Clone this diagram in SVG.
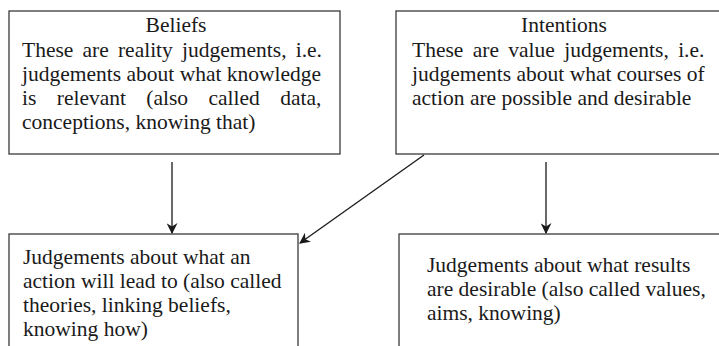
<svg xmlns="http://www.w3.org/2000/svg" width="719" height="346" viewBox="0 0 719 346">
<defs>
<style>
.box{fill:#fff;stroke:#3a3a3a;stroke-width:1.3}
.t{font-family:"Liberation Serif","Times New Roman",serif;font-size:21.5px;fill:#1a1a1a}
.c{text-anchor:middle}
.ln{stroke:#1a1a1a;stroke-width:1.3;fill:none}
</style>
<marker id="ah" viewBox="0 0 10 10" refX="9" refY="5" markerWidth="11" markerHeight="11" markerUnits="userSpaceOnUse" orient="auto">
<path d="M0,0 L10,5 L0,10 L3,5 z" fill="#1a1a1a"/>
</marker>
</defs>
<rect width="719" height="346" fill="#fff"/>
<g id="beliefs">
<rect class="box" x="9" y="11" width="331" height="143"/>
<text class="t c" x="176" y="32">Beliefs</text>
<text class="t" x="22" y="57" word-spacing="3.8">These are reality judgements, i.e.</text>
<text class="t" x="22" y="81">judgements about what knowledge</text>
<text class="t" x="22" y="105" word-spacing="15">is relevant (also called data,</text>
<text class="t" x="22" y="129">conceptions, knowing that)</text>
</g>
<g id="intentions">
<rect class="box" x="396" y="11" width="340" height="143"/>
<text class="t c" x="564" y="32">Intentions</text>
<text class="t" x="412" y="57" word-spacing="4">These are value judgements, i.e.</text>
<text class="t" x="412" y="81">judgements about what courses of</text>
<text class="t" x="412" y="105">action are possible and desirable</text>
</g>
<g id="theories">
<rect class="box" x="9" y="234" width="289" height="120"/>
<text class="t" x="23" y="264">Judgements about what an</text>
<text class="t" x="23" y="288">action will lead to (also called</text>
<text class="t" x="23" y="312">theories, linking beliefs,</text>
<text class="t" x="23" y="336">knowing how)</text>
</g>
<g id="values">
<rect class="box" x="399" y="234" width="340" height="120"/>
<text class="t" x="427" y="272">Judgements about what results</text>
<text class="t" x="427" y="296">are desirable (also called values,</text>
<text class="t" x="427" y="320">aims, knowing)</text>
</g>
<g id="connectors">
<line class="ln" x1="172" y1="162" x2="172" y2="233" marker-end="url(#ah)"/>
<line class="ln" x1="546" y1="162" x2="546" y2="233" marker-end="url(#ah)"/>
<line class="ln" x1="424" y1="155" x2="300" y2="243" marker-end="url(#ah)"/>
</g>
</svg>
